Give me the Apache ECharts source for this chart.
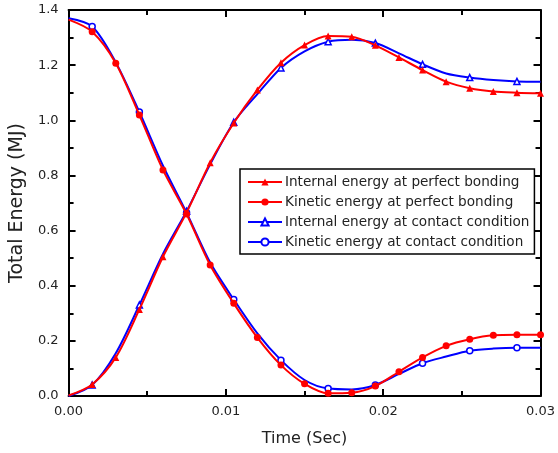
<!DOCTYPE html>
<html>
<head>
<meta charset="utf-8">
<script src="https://cdn.jsdelivr.net/npm/echarts@6/dist/echarts.min.js"></script>
<style>
  html, body { margin: 0; padding: 0; background: #fff; }
  #chart { width: 558px; height: 453px; }
</style>
</head>
<body>
<div id="chart"></div>
<script>
// time samples (s)
var times = [0, 0.0015, 0.003, 0.0045, 0.006, 0.0075, 0.009, 0.0105, 0.012, 0.0135, 0.015,
  0.0165, 0.018, 0.0195, 0.021, 0.0225, 0.024, 0.0255, 0.027, 0.0285, 0.03]

// energies (MJ)
var internalBonding = [0.002, 0.042, 0.14, 0.314, 0.505, 0.665, 0.846, 0.99, 1.11, 1.209, 1.273,
  1.306, 1.303, 1.272, 1.228, 1.182, 1.14, 1.116, 1.104, 1.1, 1.098]
var kineticBonding = [1.365, 1.321, 1.207, 1.019, 0.82, 0.66, 0.475, 0.336, 0.212, 0.112, 0.044,
  0.01, 0.012, 0.036, 0.088, 0.14, 0.182, 0.206, 0.22, 0.222, 0.222]
var internalContact = [0, 0.04, 0.155, 0.33, 0.515, 0.67, 0.84, 0.993, 1.095, 1.19, 1.25,
  1.285, 1.292, 1.28, 1.243, 1.203, 1.17, 1.155, 1.146, 1.141, 1.14]
var kineticContact = [1.37, 1.34, 1.21, 1.03, 0.835, 0.665, 0.484, 0.35, 0.227, 0.13, 0.058,
  0.027, 0.024, 0.04, 0.08, 0.119, 0.143, 0.164, 0.172, 0.175, 0.175]

var xTicks = ['0.00', '0.01', '0.02', '0.03']

var names = [
  'Internal energy at perfect bonding',
  'Kinetic energy at perfect bonding',
  'Internal energy at contact condition',
  'Kinetic energy at contact condition'
]

function pairs(vals) {
  return times.map(function (t, i) { return [t, vals[i]] })
}

// red markers on every sample after t=0, blue on every other one
function redSize(v, p) { return p.dataIndex > 0 ? 7 : 0 }
function blueSize(v, p) { return p.dataIndex % 2 === 1 ? 6 : 0 }

function makeSeries(name, vals, color, symbol, hollow, sizeFn) {
  return {
    name: name,
    type: 'line',
    data: pairs(vals),
    smooth: 0.3,
    symbol: symbol,
    symbolSize: sizeFn,
    showAllSymbol: true,
    lineStyle: { color: color, width: 2 },
    itemStyle: hollow
      ? { color: '#fff', borderColor: color, borderWidth: 1.5 }
      : { color: color, borderColor: color, borderWidth: 0 },
    emphasis: { disabled: true },
    z: color === '#ff0000' ? 3 : 2
  }
}

var font = 'DejaVu Sans, Liberation Sans, sans-serif'
var tickStyle = { color: '#000', width: 2 }

function frameAxis(extra) {
  return Object.assign({
    type: 'value',
    axisLine: { show: true, onZero: false, lineStyle: tickStyle },
    axisTick: { show: true, inside: true, length: 7, lineStyle: tickStyle },
    minorTick: { show: true, splitNumber: 2, length: 5, lineStyle: tickStyle },
    splitLine: { show: false }
  }, extra)
}

var chart = echarts.init(document.getElementById('chart'))

chart.setOption({
  animation: false,
  textStyle: { fontFamily: font, color: '#222' },
  grid: { left: 67, right: 16, top: 10, bottom: 57 },
  legend: {
    orient: 'vertical',
    left: 240,
    top: 169,
    padding: [6, 5, 5, 7],
    itemGap: 6,
    itemWidth: 34,
    itemHeight: 9,
    borderColor: '#000',
    borderWidth: 1.5,
    borderRadius: 0,
    backgroundColor: '#fff',
    textStyle: { fontSize: 13.6, color: '#222', fontFamily: font, padding: [0, 0, 0, -2] },
    data: names
  },
  xAxis: [
    frameAxis({
      min: 0, max: 0.03, interval: 0.01,
      name: 'Time (Sec)', nameLocation: 'middle', nameGap: 35,
      nameTextStyle: { fontSize: 16, color: '#222' },
      axisLabel: {
        fontSize: 13, color: '#222', margin: 9,
        formatter: function (v) { return xTicks[Math.round(v * 100)] }
      }
    }),
    frameAxis({
      min: 0, max: 0.03, interval: 0.01, position: 'top',
      axisLabel: { show: false }
    })
  ],
  yAxis: [
    frameAxis({
      min: 0, max: 1.4, interval: 0.2,
      name: 'Total Energy (MJ)', nameLocation: 'middle', nameGap: 40, nameRotate: 90,
      nameTextStyle: { fontSize: 19, color: '#222' },
      axisLabel: {
        fontSize: 13, color: '#222', margin: 10,
        formatter: function (v) { return v.toFixed(1) }
      }
    }),
    frameAxis({
      min: 0, max: 1.4, interval: 0.2, position: 'right',
      axisLabel: { show: false }
    })
  ],
  series: [
    makeSeries(names[0], internalBonding, '#ff0000', 'triangle', false, redSize),
    makeSeries(names[1], kineticBonding, '#ff0000', 'circle', false, redSize),
    makeSeries(names[2], internalContact, '#0000ff', 'triangle', true, blueSize),
    makeSeries(names[3], kineticContact, '#0000ff', 'circle', true, blueSize)
  ]
})
</script>
</body>
</html>
